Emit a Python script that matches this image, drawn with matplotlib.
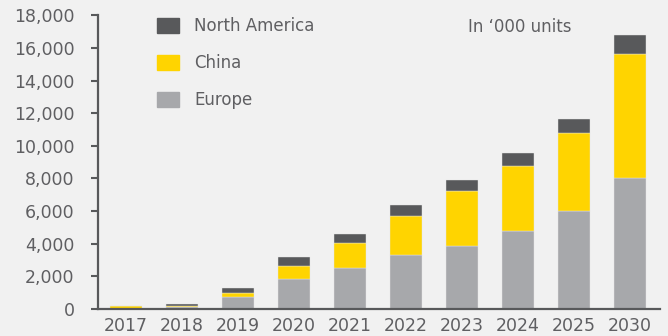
import matplotlib
matplotlib.use("Agg")
import matplotlib.pyplot as plt
from matplotlib.patches import Patch

years = ["2017", "2018", "2019", "2020", "2021", "2022", "2023", "2024", "2025", "2030"]
europe = [0, 130, 720, 1820, 2540, 3340, 3890, 4750, 5980, 8050]
china = [180, 50, 280, 840, 1490, 2350, 3320, 3990, 4830, 7590]
north_america = [0, 150, 290, 550, 560, 700, 690, 820, 840, 1130]
yticks = [0, 2000, 4000, 6000, 8000, 10000, 12000, 14000, 16000, 18000]

BG = "#f1f1f1"
C_EU = "#a7a8ab"
C_CN = "#ffd400"
C_NA = "#58595b"
TXT = "#5f5f62"

plt.rcParams['font.family'] = ['DejaVu Sans']

fig = plt.figure(figsize=(6.68, 3.36), dpi=100, facecolor=BG)
ax = fig.add_axes([98/668, 1-309/336, (660-98)/668, (309-15.3)/336], facecolor=BG)

x = list(range(len(years)))
w = 0.57
bottom2 = [a + b for a, b in zip(europe, china)]
ax.bar(x, europe, w, color=C_EU, edgecolor="#e6e6e6", linewidth=0.3, zorder=2)
ax.bar(x, china, w, bottom=europe, color=C_CN, edgecolor="#e6e6e6", linewidth=0.3, zorder=2)
ax.bar(x, north_america, w, bottom=bottom2, color=C_NA, edgecolor="#e6e6e6", linewidth=0.3, zorder=2)

ax.set_xlim(-0.5, 9.54)
ax.set_ylim(0, 18000)
ax.set_xticks(x)
ax.set_xticklabels(years)
ax.set_yticks(yticks)
ax.set_yticklabels([f"{v:,}" for v in yticks])
ax.tick_params(axis='x', length=0, pad=6, labelsize=12.5, labelcolor=TXT)
ax.tick_params(axis='y', length=5, width=1.5, color=C_NA, pad=12, labelsize=12.5, labelcolor=TXT)
for s in ["top", "right"]:
    ax.spines[s].set_visible(False)
for s in ["left", "bottom"]:
    ax.spines[s].set_color(C_NA)
    ax.spines[s].set_linewidth(1.6)

handles = [Patch(color=C_NA), Patch(color=C_CN), Patch(color=C_EU)]
leg = ax.legend(handles, ["North America", "China", "Europe"], loc="upper left",
                bbox_to_anchor=(0.078, 1.045), frameon=False, fontsize=12,
                handlelength=1.35, handleheight=1.0, labelspacing=1.15,
                handletextpad=0.9)
for t in leg.get_texts():
    t.set_color(TXT)

fig.text(520/668, 1-27/336, "In \u2018000 units", ha="center", va="center",
         fontsize=12, color=TXT)

fig.savefig("out.png", dpi=100, facecolor=BG)
